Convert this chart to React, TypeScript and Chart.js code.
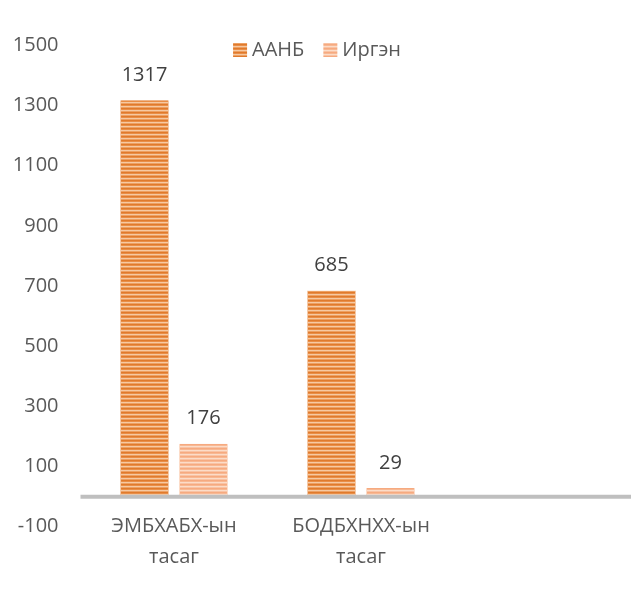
import React, { useEffect, useRef } from "react";
import { Chart, registerables } from "chart.js";

Chart.register(...registerables);

// ---- data ----
const categories: string[][] = [["ЭМБХАБХ-ын", "тасаг"], ["БОДБХНХХ-ын", "тасаг"], [""]];
const seriesNames: string[] = ["ААНБ", "Иргэн"];
const aanbValues: (number | null)[] = [1317, 685, null];
const irgenValues: (number | null)[] = [176, 29, null];
const yTickValues: number[] = [-100, 100, 300, 500, 700, 900, 1100, 1300, 1500];
const yAxisMin = -60;
const yAxisMax = 1500;

// ---- style ----
const FONT = "'Open Sans', 'DejaVu Sans', sans-serif";
const TEXT = "#595959";
const LABEL = "#404040";
const aanbStripes = ["#E07A2C", "#E98E47", "#F6C9A2", "#EDA062"];
const irgenStripes = ["#F6AA80", "#F8B893", "#FCDCC8", "#F9C3A4"];

function makePattern(rows: string[]): CanvasPattern | string {
  const c = document.createElement("canvas");
  c.width = 1;
  c.height = rows.length;
  const g = c.getContext("2d");
  if (!g) return rows[0];
  rows.forEach((col, i) => {
    g.fillStyle = col;
    g.fillRect(0, i, 1, 1);
  });
  return g.createPattern(c, "repeat") || rows[0];
}

const zeroLinePlugin = {
  id: "zeroLine",
  afterDatasetsDraw(chart: any) {
    const { ctx, chartArea, scales } = chart;
    const y = scales.y.getPixelForValue(0);
    ctx.save();
    ctx.strokeStyle = "#BFBFBF";
    ctx.lineWidth = 4;
    ctx.beginPath();
    ctx.moveTo(chartArea.left, y);
    ctx.lineTo(chartArea.right, y);
    ctx.stroke();
    ctx.restore();
  },
};

const valueLabelPlugin = {
  id: "valueLabels",
  afterDatasetsDraw(chart: any) {
    const { ctx } = chart;
    ctx.save();
    ctx.font = `20px ${FONT}`;
    ctx.fillStyle = LABEL;
    ctx.textAlign = "center";
    ctx.textBaseline = "middle";
    chart.data.datasets.forEach((ds: any, i: number) => {
      const meta = chart.getDatasetMeta(i);
      meta.data.forEach((el: any, j: number) => {
        const v = ds.data[j];
        if (v === null || v === undefined) return;
        ctx.fillText(String(v), el.x, el.y - 25);
      });
    });
    ctx.restore();
  },
};

const legendPlugin = {
  id: "customLegend",
  afterDraw(chart: any) {
    const { ctx } = chart;
    const centerX = 317;
    const centerY = 50;
    const box = 14;
    const textGap = 5;
    const itemGap = 19;
    ctx.save();
    ctx.font = `20px ${FONT}`;
    const items = chart.data.datasets.map((ds: any) => ({
      text: ds.label,
      fill: ds.backgroundColor,
      w: ctx.measureText(ds.label).width,
    }));
    const total =
      items.reduce((s: number, it: any) => s + box + textGap + it.w, 0) + itemGap * (items.length - 1);
    let x = centerX - total / 2;
    items.forEach((it: any) => {
      ctx.fillStyle = it.fill;
      ctx.fillRect(x, centerY - box / 2, box, box);
      ctx.fillStyle = TEXT;
      ctx.textAlign = "left";
      ctx.textBaseline = "middle";
      ctx.fillText(it.text, x + box + textGap, centerY);
      x += box + textGap + it.w + itemGap;
    });
    ctx.restore();
  },
};

export default function App() {
  const ref = useRef<HTMLCanvasElement | null>(null);

  useEffect(() => {
    if (!ref.current) return;
    const aanbFill = makePattern(aanbStripes);
    const irgenFill = makePattern(irgenStripes);
    const chart = new Chart(ref.current, {
      type: "bar",
      data: {
        labels: categories,
        datasets: [
          {
            label: seriesNames[0],
            data: aanbValues,
            backgroundColor: aanbFill as any,
            borderColor: "#F5C9A6",
            borderWidth: { left: 1, right: 1, top: 0, bottom: 0 },
            borderSkipped: false,
            categoryPercentage: 0.631,
            barPercentage: 0.83,
          },
          {
            label: seriesNames[1],
            data: irgenValues,
            backgroundColor: irgenFill as any,
            borderColor: "#FCDCC8",
            borderWidth: { left: 1, right: 1, top: 0, bottom: 0 },
            borderSkipped: false,
            categoryPercentage: 0.631,
            barPercentage: 0.83,
          },
        ],
      },
      options: {
        animation: false,
        responsive: false,
        devicePixelRatio: 1,
        layout: { padding: { left: 0, top: 45.3, right: 4.5, bottom: 0 } },
        plugins: {
          legend: { display: false },
          tooltip: { enabled: false },
        },
        scales: {
          x: {
            grid: { display: false, drawTicks: false },
            border: { display: false },
            ticks: {
              color: TEXT,
              font: { family: FONT, size: 20, lineHeight: 1.55 },
              padding: -3.5,
              maxRotation: 0,
              autoSkip: false,
            },
            afterFit(scale: any) {
              scale.height = 87.3;
            },
          },
          y: {
            min: yAxisMin,
            max: yAxisMax,
            grid: { display: false, drawTicks: false },
            border: { display: false },
            ticks: {
              color: TEXT,
              font: { family: FONT, size: 20 },
              padding: 22,
              callback: (v: any) => String(v),
            },
            afterBuildTicks(scale: any) {
              scale.ticks = yTickValues.map((v) => ({ value: v }));
            },
            afterFit(scale: any) {
              scale.width = 80.5;
            },
          },
        },
      },
      plugins: [zeroLinePlugin, valueLabelPlugin, legendPlugin],
    });
    return () => chart.destroy();
  }, []);

  return (
    <div
      style={{
        position: "fixed",
        left: 0,
        top: 0,
        width: 631,
        height: 602,
        overflow: "hidden",
        background: "#ffffff",
      }}
    >
      <canvas ref={ref} width={646} height={602} style={{ display: "block", width: 646, height: 602 }} />
    </div>
  );
}
